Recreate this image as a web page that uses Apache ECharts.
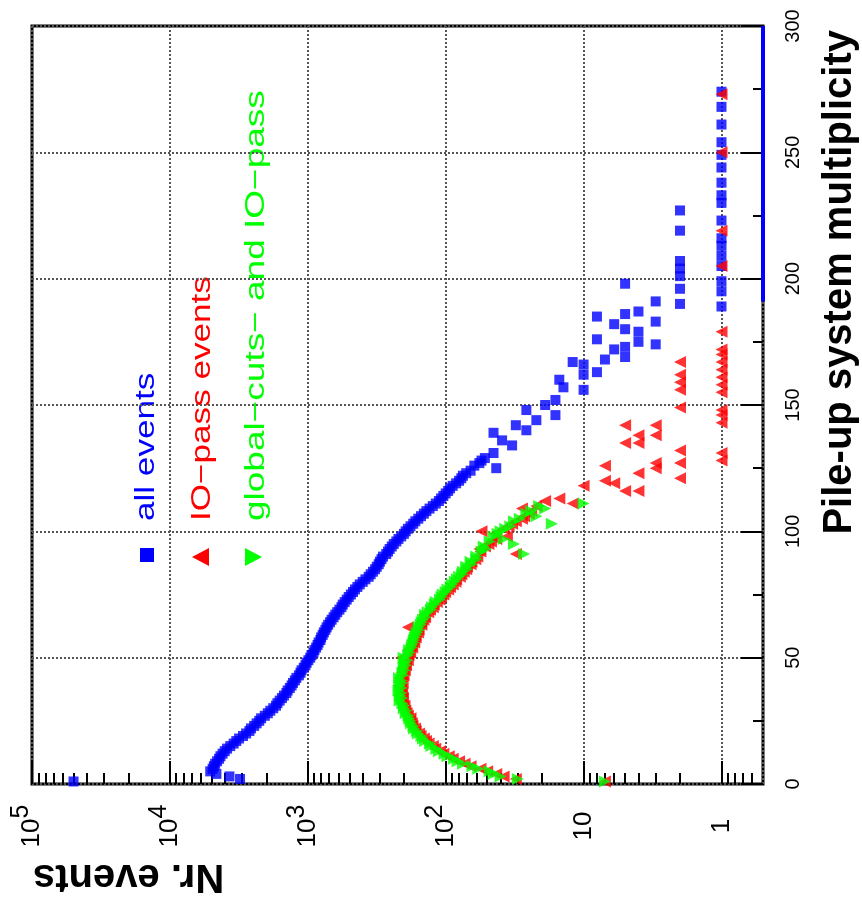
<!DOCTYPE html>
<html>
<head>
<meta charset="utf-8">
<script src="https://cdn.jsdelivr.net/npm/echarts@6/dist/echarts.min.js"></script>
<style>
  html, body { margin: 0; padding: 0; background: #fff; }
  #chart { width: 862px; height: 906px; }
</style>
</head>
<body>
<div id="chart"></div>
<script>
// ---- data: [pile-up multiplicity, number of events] ----
// all events, densely filled bins (multiplicity 1..129)
const allEventsFirstMult = 1;
const allEventsDense = [
  50000, 3100, 3700, 4600, 5100, 4900, 4800, 4700, 4550, 4400,
  4300, 4150, 4000, 3850, 3650, 3450, 3300, 3150, 2950, 2800,
  2650, 2580, 2450, 2350, 2250, 2180, 2050, 1950, 1870, 1780,
  1700, 1660, 1600, 1540, 1490, 1430, 1400, 1350, 1310, 1280,
  1240, 1210, 1160, 1130, 1110, 1070, 1040, 1020, 990, 960,
  940, 910, 895, 870, 850, 835, 810, 800, 780, 765,
  745, 730, 712, 690, 672, 650, 632, 612, 590, 570,
  558, 540, 522, 505, 487, 470, 455, 437, 420, 400,
  382, 362, 350, 337, 325, 316, 306, 300, 292, 285,
  270, 262, 255, 246, 238, 228, 220, 210, 201, 195,
  188, 180, 172, 166, 158, 151, 144, 138, 131, 124,
  118, 112, 108, 104, 100, 96, 93, 89, 84, 80,
  77, 75, 71, 66, 43, 62, 57, 55, 52
];
// all events, sparse tail
const allEventsTail = [
  [131, 45], [134, 33], [136, 39], [139, 45], [140, 26], [142, 31], [144, 22],
  [146, 16], [148, 26], [150, 19], [152, 16], [156, 10], [157, 14], [160, 15],
  [162, 10], [163, 8], [166, 10], [167, 12], [168, 7], [169, 5], [172, 6],
  [173, 5], [174, 3], [175, 4], [176, 8], [179, 4], [180, 5], [182, 6],
  [183, 3], [185, 8], [186, 5], [187, 4], [190, 2], [191, 3], [196, 2],
  [198, 5], [201, 2], [204, 2], [207, 2], [219, 2], [227, 2],
  [189, 1], [195, 1], [199, 1], [205, 1], [209, 1], [213, 1], [216, 1],
  [223, 1], [230, 1], [233, 1], [238, 1], [244, 1], [249, 1], [254, 1],
  [261, 1], [268, 1], [274, 1]
];
// empty bins of "all events" (drawn on the axis floor)
const allEventsEmptyBins = [191, 300];

// IO-pass events, densely filled bins (multiplicity 1..113)
const ioPassFirstMult = 1;
const ioPassDense = [
  7, 31, 38, 43, 50, 56, 66, 73, 80, 89,
  95, 104, 110, 119, 124, 133, 139, 144, 152, 156,
  165, 167, 174, 176, 182, 180, 188, 192, 196, 203,
  199, 209, 214, 204, 218, 207, 215, 210, 220, 205,
  212, 216, 202, 208, 198, 203, 194, 199, 188, 210,
  186, 181, 188, 175, 178, 169, 173, 165, 166, 159,
  157, 188, 150, 151, 145, 141, 143, 134, 130, 124,
  122, 116, 111, 108, 104, 101, 96, 93, 89, 85,
  84, 79, 77, 74, 71, 70, 66, 65, 61, 59,
  31, 56, 57, 52, 49, 47, 43, 36, 44, 55,
  38, 35, 33, 31, 28, 27, 25, 24, 28, 22,
  12, 19, 15
];
// IO-pass events, sparse tail
const ioPassTail = [
  [116, 5], [116, 4], [118, 10], [119, 6], [120, 7], [121, 2], [123, 4],
  [125, 3], [126, 7], [127, 3], [127, 2], [128, 1], [131, 1], [132, 2],
  [135, 5], [135, 4], [138, 4], [138, 3], [142, 5], [142, 3], [143, 1],
  [146, 1], [148, 1], [149, 2], [155, 1], [156, 2], [158, 1], [159, 2],
  [161, 1], [162, 2], [164, 1], [167, 1], [167, 2], [170, 1], [172, 1],
  [179, 1], [205, 1], [219, 1], [250, 1], [273, 1]
];

// global-cuts- and IO-pass events (multiplicity 1..111)
const globalCutsFirstMult = 1;
const globalCutsDense = [
  7, 30, 40, 45, 48, 58, 64, 75, 82, 87,
  97, 102, 112, 117, 127, 130, 141, 146, 150, 159,
  162, 170, 171, 178, 180, 184, 186, 195, 193, 201,
  200, 206, 216, 207, 214, 210, 220, 209, 216, 207,
  211, 218, 204, 206, 199, 202, 195, 197, 190, 202,
  187, 183, 184, 176, 175, 171, 170, 167, 164, 161,
  156, 157, 152, 149, 146, 140, 141, 135, 128, 126,
  120, 118, 110, 107, 105, 100, 97, 92, 90, 86,
  83, 80, 76, 75, 70, 71, 65, 66, 60, 60,
  27, 55, 51, 53, 32, 48, 38, 45, 42, 40,
  37, 34, 17, 32, 29, 22, 26, 24, 19, 21,
  10
];

// decade tick texts of the event axis (index = exponent of 10)
const decadeLabels = ['1', '10', '10{e|2}', '10{e|3}', '10{e|4}', '10{e|5}'];
const eventAxisRange = [0.5, 1e5];
const multAxisRange = [0, 300];

// ---- helpers ----
function denseToPairs(first, counts) {
  return counts.map((c, i) => [first + i, c]);
}
// series data is [events, multiplicity] (events on the horizontal log axis)
function toXY(pairs) { return pairs.map(p => [p[1], p[0]]); }

const allEvents = denseToPairs(allEventsFirstMult, allEventsDense).concat(allEventsTail);
const ioPass = denseToPairs(ioPassFirstMult, ioPassDense).concat(ioPassTail);
const globalCuts = denseToPairs(globalCutsFirstMult, globalCutsDense);

// minor log ticks: 2..9 within every decade, plus 0.6..0.9 below 1
const minorTicks = [];
for (let d = -1; d < 5; d++) {
  for (let k = 2; k <= 9; k++) {
    const v = k * Math.pow(10, d);
    if (v > eventAxisRange[0] && v < eventAxisRange[1]) minorTicks.push(+v.toPrecision(3));
  }
}

const FONT = '"Liberation Sans", Arial, Helvetica, sans-serif';
const BLUE = '#0000ff', RED = '#ff0000', GREEN = '#00ff00';
const gridDots = { color: '#555', width: 2, type: [2, 2] };
const tickLine = { color: '#000', width: 2 };

const chart = echarts.init(document.getElementById('chart'), null, { renderer: 'canvas' });

const option = {
  animation: false,
  backgroundColor: '#fff',
  grid: {
    left: 32, right: 99, top: 26, bottom: 122,
    show: true, borderColor: '#000', borderWidth: 3, backgroundColor: '#fff'
  },
  xAxis: [
    {
      type: 'log', logBase: 10,
      min: eventAxisRange[0], max: eventAxisRange[1],
      inverse: true, position: 'bottom',
      axisLine: { show: false },
      axisTick: { show: true, inside: true, length: 23, lineStyle: tickLine },
      splitLine: { show: true, lineStyle: gridDots },
      axisLabel: {
        show: true, rotate: 90, align: 'center', verticalAlign: 'middle',
        margin: 42, showMinLabel: false, color: '#000',
        fontFamily: FONT, fontSize: 26,
        formatter: function (v) {
          const e = Math.log10(v);
          const r = Math.round(e);
          if (Math.abs(e - r) > 1e-6 || r < 0 || r >= decadeLabels.length) return '';
          return decadeLabels[r];
        },
        rich: {
          e: { fontFamily: FONT, fontSize: 25, color: '#000', padding: [0, 0, 22, 0] }
        }
      }
    },
    {
      type: 'log', logBase: 10,
      min: eventAxisRange[0], max: eventAxisRange[1],
      inverse: true, position: 'bottom',
      axisLine: { show: false },
      axisLabel: { show: false },
      splitLine: { show: false },
      axisTick: { show: true, inside: true, length: 11, lineStyle: tickLine, customValues: minorTicks }
    }
  ],
  yAxis: {
    type: 'value', min: multAxisRange[0], max: multAxisRange[1], interval: 50,
    position: 'right',
    axisLine: { show: false },
    axisTick: { show: true, inside: true, length: 22, lineStyle: tickLine },
    minorTick: { show: true, splitNumber: 2, length: 10, lineStyle: tickLine },
    splitLine: { show: true, lineStyle: gridDots },
    axisLabel: { rotate: 90, margin: 20, color: '#000', fontFamily: FONT, fontSize: 20 }
  },
  series: [
    {
      name: 'all events', type: 'scatter', xAxisIndex: 0,
      data: toXY(allEvents),
      symbol: 'rect', symbolSize: 10,
      itemStyle: { color: BLUE }, z: 3
    },
    {
      name: 'all events (empty bins)', type: 'line', xAxisIndex: 0,
      data: allEventsEmptyBins.map(m => [eventAxisRange[0], m]),
      symbol: 'none', clip: false,
      lineStyle: { color: BLUE, width: 4 }, z: 4
    },
    {
      name: 'IO-pass events', type: 'scatter', xAxisIndex: 0,
      data: toXY(ioPass),
      symbol: 'triangle', symbolSize: 12, symbolRotate: 90,
      itemStyle: { color: RED }, z: 5
    },
    {
      name: 'global-cuts- and IO-pass', type: 'scatter', xAxisIndex: 0,
      data: toXY(globalCuts),
      symbol: 'triangle', symbolSize: 12, symbolRotate: -90,
      itemStyle: { color: GREEN }, z: 6
    }
  ],
  graphic: [
    // axis titles
    {
      type: 'text', x: 840, y: 30, rotation: Math.PI / 2,
      style: {
        text: 'Pile-up system multiplicity', fill: '#000',
        font: 'bold 40px ' + FONT,
        align: 'right', verticalAlign: 'middle', textAlign: 'right', textVerticalAlign: 'middle'
      }
    },
    {
      type: 'text', x: 33, y: 876, rotation: Math.PI,
      style: {
        text: 'Nr. events', fill: '#000',
        font: 'bold 40px ' + FONT,
        align: 'right', verticalAlign: 'middle', textAlign: 'right', textVerticalAlign: 'middle'
      }
    },
    // legend markers
    { type: 'rect', shape: { x: 140, y: 548, width: 14, height: 14 }, style: { fill: BLUE } },
    { type: 'polygon', shape: { points: [[192, 557], [209, 548], [209, 566]] }, style: { fill: RED } },
    { type: 'polygon', shape: { points: [[262, 557], [245, 548], [245, 566]] }, style: { fill: GREEN } },
    // legend texts
    {
      type: 'text', x: 147, y: 521, rotation: Math.PI / 2, scaleX: 1.3,
      style: {
        text: 'all events', fill: BLUE, font: '27px ' + FONT,
        align: 'left', verticalAlign: 'middle', textAlign: 'left', textVerticalAlign: 'middle'
      }
    },
    {
      type: 'text', x: 203, y: 521, rotation: Math.PI / 2, scaleX: 1.3,
      style: {
        text: 'IO\u2212pass events', fill: RED, font: '27px ' + FONT,
        align: 'left', verticalAlign: 'middle', textAlign: 'left', textVerticalAlign: 'middle'
      }
    },
    {
      type: 'text', x: 257, y: 521, rotation: Math.PI / 2, scaleX: 1.37,
      style: {
        text: 'global\u2212cuts\u2212 and IO\u2212pass', fill: GREEN, font: '27px ' + FONT,
        align: 'left', verticalAlign: 'middle', textAlign: 'left', textVerticalAlign: 'middle'
      }
    }
  ]
};

chart.setOption(option);
</script>
</body>
</html>
